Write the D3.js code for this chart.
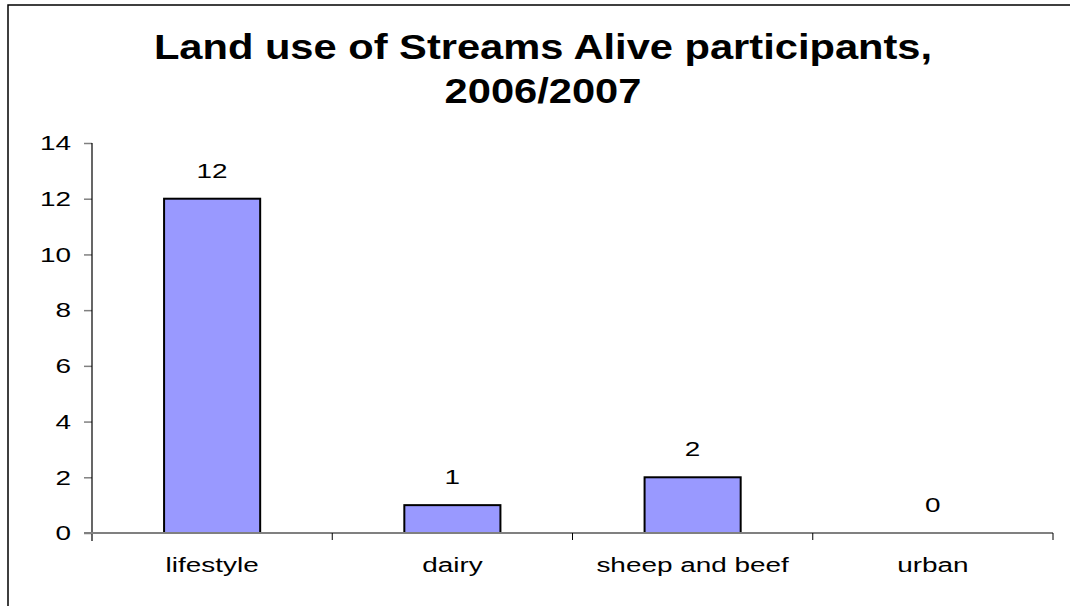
<!DOCTYPE html>
<html>
<head>
<meta charset="utf-8">
<script src="https://cdn.jsdelivr.net/npm/d3@7"></script>
<style>
  body { margin: 0; background: #fff; }
  svg { display: block; font-family: "Liberation Sans", Arial, sans-serif; }
</style>
</head>
<body>
<div id="chart"></div>
<script>
const categories = ['lifestyle', 'dairy', 'sheep and beef', 'urban'];
const values = [12, 1, 2, 0];
const yTicks = [0, 2, 4, 6, 8, 10, 12, 14];
const titleLines = ['Land use of Streams Alive participants,', '2006/2007'];

const totalWidth = 1070, totalHeight = 607;
const plot = { left: 92, right: 1053, top: 143, bottom: 533 };
// the source picture is stretched sideways, so text is widened to match
const labelStretch = 1.33;
const titleStretch = 1.19;

const svg = d3.select('#chart').append('svg')
  .attr('width', totalWidth)
  .attr('height', totalHeight);

// chart frame (only left/top edges fall inside the picture)
svg.append('path')
  .attr('d', 'M8,606 L8,5 L1070,5')
  .attr('fill', 'none')
  .attr('stroke', '#000')
  .attr('stroke-width', 1.5);

function stretched(x, y, s){
  return 'translate(' + x + ',' + y + ') scale(' + s + ',1)';
}

//--------------------- Title ---------------------------------------------------
svg.append('g').selectAll('text')
  .data(titleLines)
  .enter().append('text')
    .attr('transform', (d, i) => stretched(543, 59 + i * 44, titleStretch))
    .attr('text-anchor', 'middle')
    .style('font-size', '35px')
    .style('font-weight', 'bold')
    .text(d => d);

//--------------------- Scales --------------------------------------------------
const xScale = d3.scaleBand()
  .domain(categories)
  .range([plot.left, plot.right])
  .paddingInner(0.6)
  .paddingOuter(0.3);

const xBand = d3.scaleBand()
  .domain(categories)
  .range([plot.left, plot.right]);

const yScale = d3.scaleLinear()
  .domain([0, 14])
  .range([plot.bottom, plot.top]);

//--------------------- Bars ----------------------------------------------------
svg.append('g').selectAll('rect')
  .data(categories.filter((c, i) => values[i] > 0))
  .enter().append('rect')
    .attr('x', d => xScale(d))
    .attr('width', xScale.bandwidth())
    .attr('y', d => yScale(values[categories.indexOf(d)]))
    .attr('height', d => yScale(0) - yScale(values[categories.indexOf(d)]))
    .attr('fill', '#9999ff')
    .attr('stroke', '#000')
    .attr('stroke-width', 2);

// value labels
svg.append('g').selectAll('text')
  .data(categories)
  .enter().append('text')
    .attr('transform', (d, i) => stretched(xScale(d) + xScale.bandwidth() / 2, yScale(values[i]) - 21, labelStretch))
    .attr('text-anchor', 'middle')
    .style('font-size', '21px')
    .text((d, i) => values[i]);

//--------------------- Axes ----------------------------------------------------
const yAxis = d3.axisLeft(yScale).tickValues(yTicks).tickSize(8).tickPadding(13);
const yAxisView = svg.append('g')
  .attr('transform', 'translate(' + plot.left + ',0)')
  .call(yAxis);
yAxisView.select('.domain').remove();
yAxisView.selectAll('line').attr('stroke', '#808080').attr('stroke-width', 1.5);
yAxisView.selectAll('text')
  .style('font-size', '21px')
  .attr('fill', '#000')
  .attr('x', -21 / labelStretch)
  .attr('transform', 'scale(' + labelStretch + ',1)');
yAxisView.append('line')
  .attr('x1', 0).attr('x2', 0)
  .attr('y1', plot.top).attr('y2', plot.bottom + 8)
  .attr('stroke', '#000').attr('stroke-width', 1.2);

// x axis baseline and category separators
const xAxisView = svg.append('g');
xAxisView.append('line')
  .attr('x1', plot.left - 8).attr('x2', plot.right)
  .attr('y1', plot.bottom).attr('y2', plot.bottom)
  .attr('stroke', '#808080').attr('stroke-width', 2);
xAxisView.selectAll('line.sep')
  .data(categories.slice(1).concat(['_end']))
  .enter().append('line')
    .attr('class', 'sep')
    .attr('x1', d => d === '_end' ? plot.right : xBand(d))
    .attr('x2', d => d === '_end' ? plot.right : xBand(d))
    .attr('y1', plot.bottom).attr('y2', plot.bottom + 7)
    .attr('stroke', '#000').attr('stroke-width', 1);
xAxisView.selectAll('text')
  .data(categories)
  .enter().append('text')
    .attr('transform', d => stretched(xBand(d) + xBand.bandwidth() / 2, 572, labelStretch))
    .attr('text-anchor', 'middle')
    .style('font-size', '21px')
    .text(d => d);
</script>
</body>
</html>
